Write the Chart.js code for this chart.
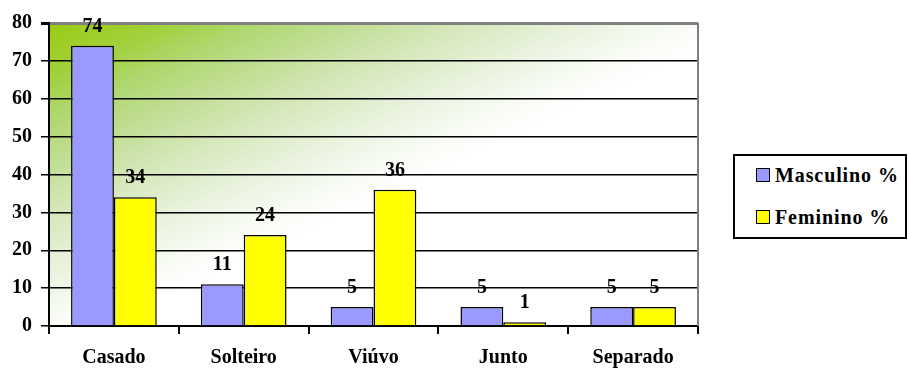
<!DOCTYPE html>
<html>
<head>
<meta charset="utf-8">
<script src="https://cdn.jsdelivr.net/npm/chart.js@4"></script>
<style>
html,body{margin:0;padding:0;background:#fff;}
#wrap{position:relative;width:909px;height:369px;}
#legend{position:absolute;left:733px;top:154px;width:174px;height:85px;border:2px solid #000;background:#fff;box-sizing:border-box;font-family:'Liberation Serif','Times New Roman',serif;font-weight:bold;font-size:20px;color:#000;}
.li{position:absolute;left:21px;height:20px;line-height:20px;display:flex;align-items:center;letter-spacing:0.9px;white-space:nowrap;}
.sw{width:12px;height:12px;border:1.5px solid #000;margin-right:5px;flex:none;}
</style>
</head>
<body>
<div id="wrap">
<canvas id="c" width="909" height="369"></canvas>
<div id="legend">
 <div class="li" style="top:9px"><span class="sw" style="background:#9999ff"></span><span id="l0"></span></div>
 <div class="li" style="top:51px"><span class="sw" style="background:#ffff00"></span><span id="l1"></span></div>
</div>
</div>
<script>
const categories = ["Casado","Solteiro","Viúvo","Junto","Separado"];
const masculino = [74,11,5,5,5];
const feminino = [34,24,36,1,5];
const seriesNames = ["Masculino %","Feminino %"];
const yTicks = [0,10,20,30,40,50,60,70,80];

document.getElementById('l0').textContent = seriesNames[0];
document.getElementById('l1').textContent = seriesNames[1];

const FONT = "'Liberation Serif','Times New Roman',serif";

const bgPlugin = {
  id:'bg',
  beforeDraw(chart){
    const {ctx, chartArea:a} = chart;
    ctx.save();
    const ux=0.42, uy=0.907, L=295;
    const g = ctx.createLinearGradient(a.left,a.top,a.left+ux*L,a.top+uy*L);
    g.addColorStop(0,'#9acc10');
    g.addColorStop(0.17,'#a2d03c');
    g.addColorStop(0.3,'#b0d770');
    g.addColorStop(0.45,'#c2df98');
    g.addColorStop(0.6,'#d6e8bc');
    g.addColorStop(0.76,'#e8f2dc');
    g.addColorStop(0.9,'#f7fbf3');
    g.addColorStop(1,'#ffffff');
    ctx.fillStyle = g;
    ctx.fillRect(a.left,a.top,a.right-a.left,a.bottom-a.top);
    ctx.restore();
  },
  afterDraw(chart){
    const {ctx, chartArea:a} = chart;
    ctx.save();
    ctx.strokeStyle='#808080';
    ctx.lineWidth=2;
    ctx.beginPath();
    ctx.moveTo(a.right,a.top);ctx.lineTo(a.right,a.bottom);
    ctx.stroke();
    ctx.fillStyle='#000';
    ctx.font = 'bold 20px '+FONT;
    ctx.textAlign='center';
    ctx.textBaseline='alphabetic';
    chart.data.datasets.forEach((ds,i)=>{
      chart.getDatasetMeta(i).data.forEach((bar,j)=>{
        ctx.fillText(String(ds.data[j]), bar.x, bar.y-14);
      });
    });
    ctx.restore();
  }
};

new Chart(document.getElementById('c'),{
  type:'bar',
  data:{
    labels:categories,
    datasets:[
      {label:seriesNames[0],data:masculino,backgroundColor:'#9999ff',borderColor:'#000',borderWidth:1.5,categoryPercentage:0.66,barPercentage:1},
      {label:seriesNames[1],data:feminino,backgroundColor:'#ffff00',borderColor:'#000',borderWidth:1.5,categoryPercentage:0.66,barPercentage:1}
    ]
  },
  options:{
    responsive:false,
    animation:false,
    layout:{padding:{left:0,top:23,right:211,bottom:0}},
    plugins:{legend:{display:false},tooltip:{enabled:false}},
    scales:{
      x:{
        grid:{offset:true,drawOnChartArea:false,drawTicks:true,tickLength:8,color:'#000',lineWidth:2},
        border:{color:'#000',width:2},
        ticks:{color:'#000',font:{family:FONT,size:20,weight:'bold'},padding:12},
        afterFit(s){s.height=43;}
      },
      y:{
        min:0,max:80,
        afterBuildTicks(s){s.ticks = yTicks.map(v=>({value:v}));},
        grid:{color:(c)=>c.tick && c.tick.value===80?'#808080':'#000',tickColor:'#000',lineWidth:(c)=>c.tick && c.tick.value===80?3:1.5,tickLength:8},
        border:{color:'#000',width:2},
        ticks:{color:'#000',font:{family:FONT,size:20,weight:'bold'},padding:9},
        afterFit(s){s.width=49;}
      }
    }
  },
  plugins:[bgPlugin]
});
</script>
</body>
</html>
